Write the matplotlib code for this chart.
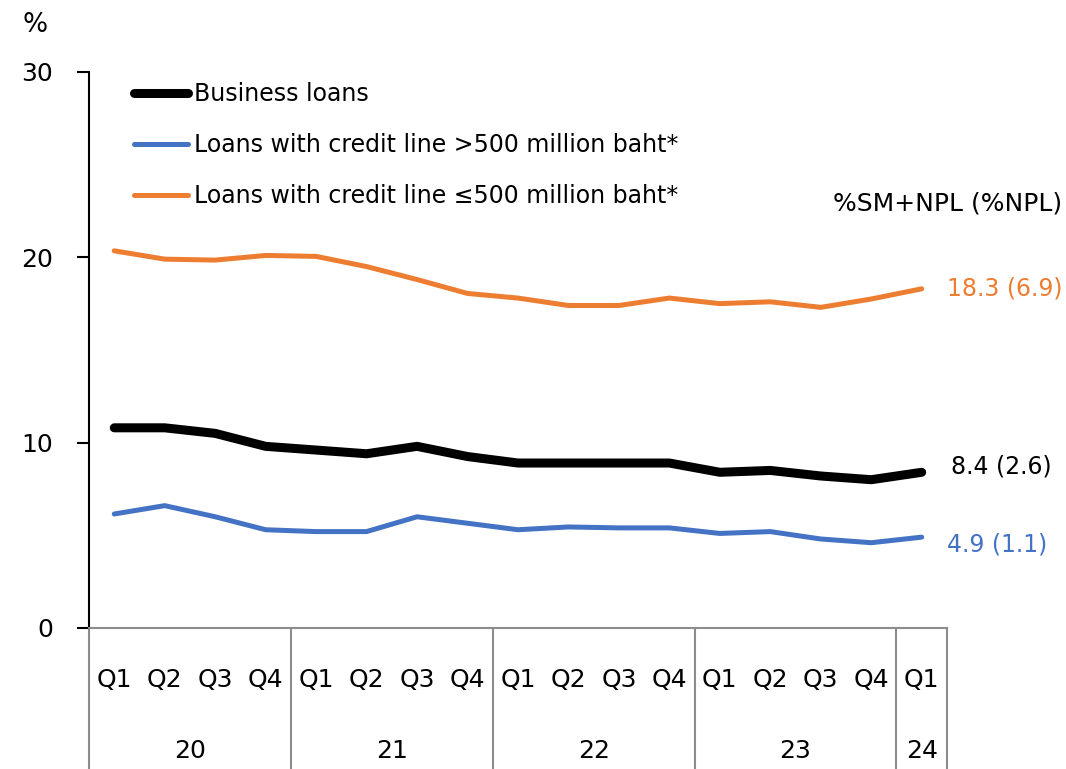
import matplotlib
matplotlib.use("Agg")
import matplotlib.pyplot as plt

quarters = ["Q1", "Q2", "Q3", "Q4"] * 4 + ["Q1"]
years = ["20", "21", "22", "23", "24"]
year_sizes = [4, 4, 4, 4, 1]

business = [10.8, 10.8, 10.5, 9.8, 9.6, 9.4, 9.8, 9.25, 8.9, 8.9,
            8.9, 8.9, 8.4, 8.5, 8.2, 8.0, 8.4]
large = [6.15, 6.6, 6.0, 5.3, 5.2, 5.2, 6.0, 5.65, 5.3, 5.45,
         5.4, 5.4, 5.1, 5.2, 4.8, 4.6, 4.9]
small = [20.35, 19.9, 19.85, 20.1, 20.05, 19.5, 18.8, 18.05, 17.8, 17.4,
         17.4, 17.8, 17.5, 17.6, 17.3, 17.75, 18.3]

npl_business = 2.6
npl_large = 1.1
npl_small = 6.9

BLACK = "#000000"
BLUE = "#4472C4"
ORANGE = "#ED7D31"

plt.rcParams.update({"font.family": ["DejaVu Sans"], "font.size": 17})

fig = plt.figure(figsize=(10.66, 7.69), dpi=100)
ax = fig.add_axes([0.0835, 0.1834, 0.8048, 0.7230])

x = list(range(len(quarters)))
ax.plot(x, business, color=BLACK, lw=6.5, solid_capstyle="round",
        solid_joinstyle="round", label="Business loans", zorder=3)
ax.plot(x, large, color=BLUE, lw=3.6, solid_capstyle="round",
        label="Loans with credit line >500 million baht*", zorder=2)
ax.plot(x, small, color=ORANGE, lw=3.6, solid_capstyle="round",
        label="Loans with credit line \u2264500 million baht*", zorder=2)

ax.set_xlim(-0.5, len(quarters) - 0.5)
ax.set_ylim(0, 30)
ax.set_yticks([0, 10, 20, 30])
ax.tick_params(axis="y", direction="out", length=9, width=1.5,
               labelsize=18, pad=17)
ax.set_xticks([])

for s in ["top", "right"]:
    ax.spines[s].set_visible(False)
ax.spines["left"].set_linewidth(1.5)
ax.spines["bottom"].set_color("#8c8c8c")
ax.spines["bottom"].set_linewidth(1.5)

# two-level category axis: quarters above, years below, with dividers
trans = ax.get_xaxis_transform()
for xi, q in zip(x, quarters):
    ax.text(xi, -0.093, q, transform=trans, ha="center", va="center",
            fontsize=18, clip_on=False)
edge = -0.5
for yr, n in zip(years, year_sizes):
    ax.plot([edge, edge], [0, -0.26], transform=trans, color="#8c8c8c",
            lw=1.5, clip_on=False)
    ax.text(edge + n / 2, -0.222, yr, transform=trans, ha="center",
            va="center", fontsize=18, clip_on=False)
    edge += n
ax.plot([edge, edge], [0, -0.26], transform=trans, color="#8c8c8c",
        lw=1.5, clip_on=False)

ax.text(-0.078, 1.085, "%", transform=ax.transAxes, ha="left", va="center",
        fontsize=19)

ax.legend(loc="upper left", bbox_to_anchor=(0.052, 0.982), frameon=False,
          fontsize=17, handlelength=2.3, handletextpad=0.25,
          labelspacing=1.15, borderpad=0, borderaxespad=0)

last = len(quarters) - 1
ax.text(1.134, 0.764, "%SM+NPL (%NPL)", transform=ax.transAxes,
        ha="right", va="center", fontsize=18)
ax.annotate(f"{small[-1]:.1f} ({npl_small:.1f})", xy=(last, small[-1]),
            xytext=(18, 0), textcoords="offset points", ha="left",
            va="center", color=ORANGE, fontsize=17)
ax.annotate(f"{business[-1]:.1f} ({npl_business:.1f})",
            xy=(last, business[-1]), xytext=(21, 4),
            textcoords="offset points", ha="left", va="center",
            color=BLACK, fontsize=17)
ax.annotate(f"{large[-1]:.1f} ({npl_large:.1f})", xy=(last, large[-1]),
            xytext=(18, -5), textcoords="offset points", ha="left",
            va="center", color=BLUE, fontsize=17)

fig.savefig("out.png", dpi=100)
